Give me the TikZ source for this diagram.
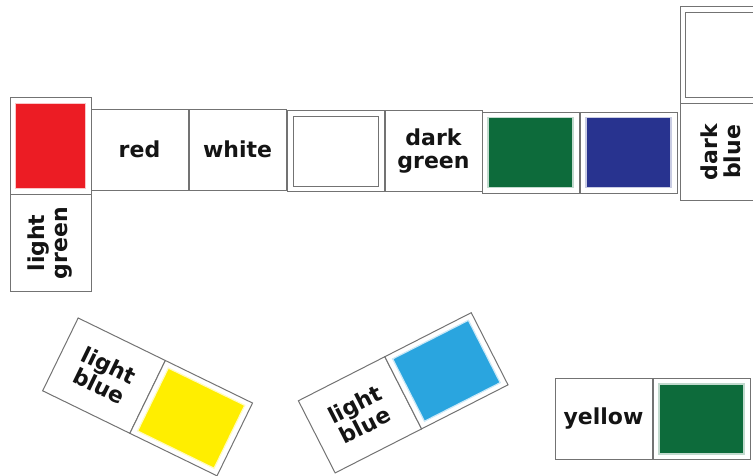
\documentclass[tikz,border=0pt]{standalone}
\usepackage{fontspec}
\newfontfamily\dominofont{DejaVu Sans}
\usepackage{xcolor}
\usepackage{tikz}
\usetikzlibrary{positioning}
\definecolor{tilered}{HTML}{EC1C24}
\definecolor{tilegreen}{HTML}{0D6B3B}
\definecolor{tileblue}{HTML}{28338F}
\definecolor{tilecyan}{HTML}{2AA5DF}
\definecolor{tileyellow}{HTML}{FFEE00}
\tikzset{
    half/.style={rectangle, draw=black!55, line width=1pt, fill=white, minimum width=97pt, minimum height=81pt, inner sep=0pt, align=center, text=black!92, font=\dominofont\bfseries\fontsize{22}{23}\selectfont},
    swatch/.style={rectangle, fill=#1, draw=#1!25, line width=1.2pt, minimum width=85pt, minimum height=70pt, inner sep=0pt},
    blank/.style={rectangle, draw=black!55, line width=1pt, minimum width=85pt, minimum height=70pt, inner sep=0pt}
}

\begin{document}
\begin{tikzpicture}[x=1pt, y=-1pt]
    \useasboundingbox (0,0) rectangle (753,475);
    \clip (0,0) rectangle (753,475);

    \begin{scope}[shift={(50.5,194.5)}, rotate=90, transform shape]
        \node (lgreenword) [half] at (-48.5,0) {light\\green};
        \node (redhalf) [half] at (48.5,0) {};
        \node (redsq) [swatch=tilered] at (redhalf.center) {};
    \end{scope}

    \node (redword) [half] at (139.5,149.5) {red};
    \node (whiteword) [half] at (237.5,149.5) {white};

    \node (whitehalf) [half] at (335.5,151) {};
    \node (whitesq) [blank] at (whitehalf.center) {};
    \node (dgreenword) [half] at (433.5,151) {dark\\green};

    \node (greenhalf) [half] at (530.5,152.5) {};
    \node (greensq) [swatch=tilegreen] at (greenhalf.center) {};
    \node (bluehalf) [half] at (628.5,152.5) {};
    \node (bluesq) [swatch=tileblue] at (bluehalf.center) {};

    \begin{scope}[shift={(720.5,103.5)}, rotate=90, transform shape]
        \node (dblueword) [half] at (-48.5,0) {dark\\blue};
        \node (blankhalf) [half] at (48.5,0) {};
        \node (blanksq) [blank] at (blankhalf.center) {};
    \end{scope}

    \begin{scope}[shift={(147.6,396.9)}, rotate=-26, transform shape]
        \node (lblueword) [half] at (-48.5,0) {light\\blue};
        \node (yellowhalf) [half] at (48.5,0) {};
        \node (yellowsq) [swatch=tileyellow] at (yellowhalf.center) {};
    \end{scope}

    \begin{scope}[shift={(403.2,392.8)}, rotate=27, transform shape]
        \node (lbluewordb) [half] at (-48.5,0) {light\\blue};
        \node (cyanhalf) [half] at (48.5,0) {};
        \node (cyansq) [swatch=tilecyan] at (cyanhalf.center) {};
    \end{scope}

    \node (yellowword) [half] at (603.5,419) {yellow};
    \node (greenhalfb) [half] at (701.5,419) {};
    \node (greensqb) [swatch=tilegreen] at (greenhalfb.center) {};
\end{tikzpicture}
\end{document}
